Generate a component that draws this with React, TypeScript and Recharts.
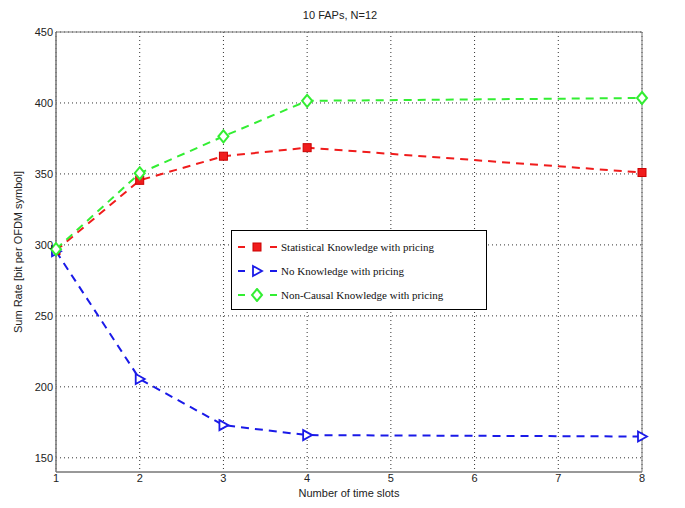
import React from "react";
import { CartesianGrid, Legend, Line, LineChart, ReferenceArea, XAxis, YAxis } from "recharts";

const slots = [1, 2, 3, 4, 8];
const statistical = [296, 345.5, 362.5, 368.5, 351];
const noKnowledge = [295.5, 205.5, 173, 166, 165];
const nonCausal = [297, 350.5, 376.5, 401.5, 403.5];
const xTicks = [1, 2, 3, 4, 5, 6, 7, 8];
const yTicks = [150, 200, 250, 300, 350, 400, 450];

const data = slots.map((s, i) => ({
  slot: s,
  stat: statistical[i],
  none: noKnowledge[i],
  causal: nonCausal[i],
}));

const RED = "#f01c1c";
const BLUE = "#1a1ae8";
const GREEN = "#33ee33";

const Square = (props: any) => {
  const { cx, cy } = props;
  if (cx == null || cy == null) return null;
  return <rect x={cx - 4} y={cy - 4} width={8} height={8} fill={RED} stroke="#c00" strokeWidth={1} />;
};

const Triangle = (props: any) => {
  const { cx, cy } = props;
  if (cx == null || cy == null) return null;
  return (
    <polygon
      points={`${cx - 4},${cy - 5} ${cx + 5},${cy} ${cx - 4},${cy + 5}`}
      fill="#fff"
      stroke={BLUE}
      strokeWidth={1.8}
    />
  );
};

const Diamond = (props: any) => {
  const { cx, cy } = props;
  if (cx == null || cy == null) return null;
  return (
    <polygon
      points={`${cx},${cy - 6} ${cx + 5},${cy} ${cx},${cy + 6} ${cx - 5},${cy}`}
      fill="#fff"
      stroke={GREEN}
      strokeWidth={2}
    />
  );
};

const legendItems = [
  { label: "Statistical Knowledge with pricing", color: RED, Mark: Square },
  { label: "No Knowledge with pricing", color: BLUE, Mark: Triangle },
  { label: "Non-Causal Knowledge with pricing", color: GREEN, Mark: Diamond },
];

const LegendBox = () => (
  <div
    style={{
      border: "1px solid #000",
      background: "#fff",
      width: 256,
      height: 80,
      boxSizing: "border-box",
      padding: "4px 0 0 4px",
      fontFamily: "Liberation Serif, serif",
      fontSize: 11,
      color: "#111",
      textAlign: "left",
    }}
  >
    {legendItems.map(({ label, color, Mark }) => (
      <div key={label} style={{ display: "flex", alignItems: "center", height: 24 }}>
        <svg width={44} height={14}>
          <line x1={2} y1={7} x2={42} y2={7} stroke={color} strokeWidth={2} strokeDasharray="7 9" />
          <Mark cx={21} cy={7} />
        </svg>
        <span style={{ marginLeft: 1 }}>{label}</span>
      </div>
    ))}
  </div>
);

const fontStyle = { fill: "#222", fontSize: 11, fontFamily: "Liberation Sans, sans-serif" };

export default function App() {
  return (
    <div style={{ margin: -8, position: "relative", width: 685, height: 508, background: "#fff" }}>
      <div
        style={{
          position: "absolute",
          top: 9,
          left: 340,
          transform: "translateX(-50%)",
          fontFamily: "Liberation Sans, sans-serif",
          fontSize: 11,
          color: "#222",
          whiteSpace: "nowrap",
          zIndex: 2,
        }}
      >
        10 FAPs, N=12
      </div>
      <LineChart width={685} height={508} data={data} margin={{ top: 32, right: 43, bottom: 0, left: 0 }}>
        <CartesianGrid
          stroke="#333"
          strokeDasharray="1 3"
          horizontalValues={yTicks}
          verticalValues={xTicks}
        />
        <XAxis
          dataKey="slot"
          type="number"
          domain={[1, 8]}
          ticks={xTicks}
          tickLine={false}
          tickSize={2}
          axisLine={{ stroke: "#777" }}
          tick={fontStyle}
          tickMargin={0}
          label={{ value: "Number of time slots", position: "insideBottom", offset: 11, ...fontStyle }}
          height={36}
        />
        <YAxis
          type="number"
          domain={[140, 450]}
          ticks={yTicks}
          tickLine={false}
          tickSize={2}
          axisLine={{ stroke: "#777" }}
          tick={fontStyle}
          tickMargin={1}
          width={56}
          label={{
            value: "Sum Rate [bit per OFDM symbol]",
            angle: -90,
            position: "insideLeft",
            offset: 18,
            style: { textAnchor: "middle" },
            ...fontStyle,
          }}
        />
        <ReferenceArea x1={1} x2={8} y1={140} y2={450} fill="none" stroke="#777" strokeWidth={1} />
        <Line
          dataKey="stat"
          stroke={RED}
          strokeWidth={2}
          strokeDasharray="8 6"
          dot={<Square />}
          activeDot={false}
          isAnimationActive={false}
        />
        <Line
          dataKey="none"
          stroke={BLUE}
          strokeWidth={2}
          strokeDasharray="8 6"
          dot={<Triangle />}
          activeDot={false}
          isAnimationActive={false}
        />
        <Line
          dataKey="causal"
          stroke={GREEN}
          strokeWidth={2}
          strokeDasharray="8 6"
          dot={<Diamond />}
          activeDot={false}
          isAnimationActive={false}
        />
        <Legend
          verticalAlign="middle"
          align="center"
          content={() => <LegendBox />}
          wrapperStyle={{ left: 231, top: 230, width: 256 }}
        />
      </LineChart>
    </div>
  );
}
